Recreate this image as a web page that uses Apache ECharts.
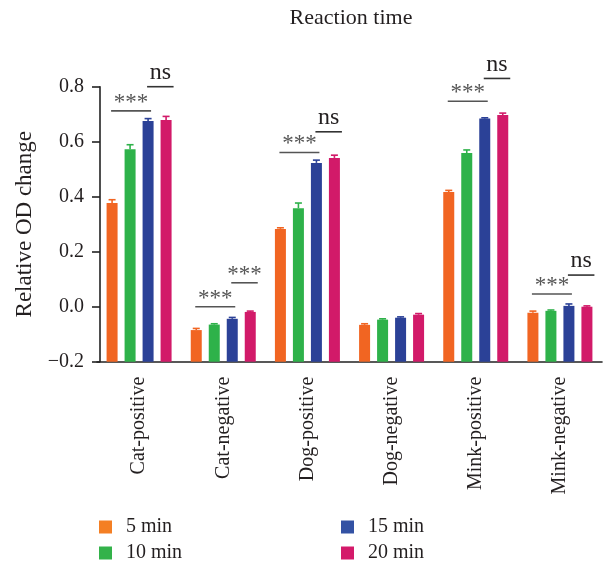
<!DOCTYPE html>
<html>
<head>
<meta charset="utf-8">
<script src="https://cdn.jsdelivr.net/npm/echarts@6/dist/echarts.min.js"></script>
<style>
html,body{margin:0;padding:0;background:#fff;}
#chart{width:603px;height:571px;}
</style>
</head>
<body>
<div id="chart"></div>
<script>
// ---------- data ----------
const categories = ['Cat-positive', 'Cat-negative', 'Dog-positive', 'Dog-negative', 'Mink-positive', 'Mink-negative'];
const seriesNames = ['5 min', '10 min', '15 min', '20 min'];
const values5  = [0.377, -0.085, 0.283, -0.066, 0.417, -0.022];
const values10 = [0.573, -0.065, 0.358, -0.047, 0.559, -0.015];
const values15 = [0.675, -0.044, 0.523, -0.040, 0.684,  0.003];
const values20 = [0.679, -0.019, 0.541, -0.029, 0.697,  0.000];
const errors5  = [0.012, 0.006, 0.004, 0.004, 0.006, 0.006];
const errors10 = [0.016, 0.003, 0.019, 0.003, 0.011, 0.003];
const errors15 = [0.009, 0.005, 0.010, 0.003, 0.003, 0.007];
const errors20 = [0.013, 0.003, 0.010, 0.004, 0.007, 0.003];
const yTicks = [-0.2, 0.0, 0.2, 0.4, 0.6, 0.8];
// significance brackets
const annCategories = ['Cat-positive', 'Cat-positive', 'Cat-negative', 'Cat-negative', 'Dog-positive', 'Dog-positive', 'Mink-positive', 'Mink-positive', 'Mink-negative', 'Mink-negative'];
const annFromSeries = [0, 2, 0, 2, 0, 2, 0, 2, 0, 2];
const annToSeries   = [2, 3, 2, 3, 2, 3, 2, 3, 2, 3];
const annLevels     = [0.712, 0.800, 0.000, 0.087, 0.561, 0.636, 0.747, 0.830, 0.046, 0.115];
const annTexts      = ['***', 'ns', '***', '***', '***', 'ns', '***', 'ns', '***', 'ns'];

// ---------- style ----------
const colors = ['#F16522', '#2EB24A', '#2B4197', '#D21A69'];
const legendColors = ['#F47F24', '#33B24A', '#3352A4', '#D41A6A'];
const FONT = "'Liberation Serif', 'DejaVu Serif', serif";
const TEXT = '#231f20';
const BAR_W = 11, BAR_GAP = 7;
const yMin = yTicks[0], yMax = yTicks[yTicks.length - 1], yStep = 0.2;

const allValues = [values5, values10, values15, values20];
const allErrors = [errors5, errors10, errors15, errors20];

const series = [];
allValues.forEach((vals, s) => {
  // invisible base from axis minimum so bars rise from the bottom of the axis
  series.push({
    type: 'bar', name: 'base' + s, stack: 'g' + s, stackStrategy: 'all',
    barWidth: BAR_W, barGap: (BAR_GAP / BAR_W * 100) + '%',
    itemStyle: { color: 'transparent' }, silent: true,
    data: vals.map(() => yMin)
  });
  series.push({
    type: 'bar', name: seriesNames[s], stack: 'g' + s, stackStrategy: 'all',
    barWidth: BAR_W, barGap: (BAR_GAP / BAR_W * 100) + '%',
    itemStyle: { color: colors[s] },
    data: vals.map(v => v - yMin)
  });
});

function seriesOffset(s) { return (s - 1.5) * (BAR_W + BAR_GAP); }

// error bars
allValues.forEach((vals, s) => {
  series.push({
    type: 'custom', name: 'err' + s, z: 5, silent: true,
    data: vals.map((v, i) => [i, v, allErrors[s][i]]),
    encode: { x: 0, y: 1 },
    renderItem: function (params, api) {
      const c0 = api.coord([api.value(0), api.value(1)]);
      const c1 = api.coord([api.value(0), api.value(1) + api.value(2)]);
      const x = c0[0] + seriesOffset(s);
      const st = { stroke: colors[s], lineWidth: 1.6 };
      return {
        type: 'group', children: [
          { type: 'line', shape: { x1: x, y1: c0[1], x2: x, y2: c1[1] }, style: st },
          { type: 'line', shape: { x1: x - 3.5, y1: c1[1], x2: x + 3.5, y2: c1[1] }, style: st }
        ]
      };
    }
  });
});

// significance annotations
series.push({
  type: 'custom', name: 'sig', z: 6, silent: true,
  data: annCategories.map((c, k) => [categories.indexOf(c), annLevels[k], annFromSeries[k], annToSeries[k]]),
  encode: { x: 0, y: 1 },
  renderItem: function (params, api) {
    const k = params.dataIndex;
    const c = api.coord([api.value(0), api.value(1)]);
    const from = api.value(2), to = api.value(3);
    const x1 = c[0] + seriesOffset(from) - 1;
    const x2 = to === seriesNames.length - 1 ? c[0] + seriesOffset(to) + BAR_W / 2 + 2 : c[0] + seriesOffset(to) + 3;
    const txt = annTexts[k];
    const isNs = txt === 'ns';
    return {
      type: 'group', children: [
        { type: 'line', shape: { x1: x1, y1: c[1], x2: x2, y2: c[1] }, style: { stroke: isNs ? '#333' : '#555', lineWidth: 1.6 } },
        { type: 'text', x: (x1 + x2) / 2, y: c[1] - (isNs ? 14 : 8),
          style: { text: txt, fill: isNs ? TEXT : '#555', font: (isNs ? '24px ' : '23px ') + FONT, align: 'center', verticalAlign: 'middle' } }
      ]
    };
  }
});

const legendText = { fontFamily: FONT, fontSize: 20, color: TEXT, lineHeight: 20, padding: [0, 0, 0, 9] };
const legendItems = seriesNames.map((n, i) => ({ name: n, itemStyle: { color: legendColors[i] } }));

const chart = echarts.init(document.getElementById('chart'), null, { renderer: 'canvas' });
chart.setOption({
  animation: false,
  color: colors,
  title: {
    text: 'Reaction time', left: 351, top: 7, textAlign: 'center', padding: 0,
    textStyle: { fontFamily: FONT, fontSize: 22, fontWeight: 'normal', color: TEXT }
  },
  legend: [
    { data: legendItems.slice(0, 2), orient: 'vertical', left: 99, top: 517, padding: 0, icon: 'rect',
      itemWidth: 13, itemHeight: 13, itemGap: 6, textStyle: legendText },
    { data: legendItems.slice(2, 4), orient: 'vertical', left: 341, top: 517, padding: 0, icon: 'rect',
      itemWidth: 13, itemHeight: 13, itemGap: 6, textStyle: legendText }
  ],
  grid: { left: 97, right: 1, top: 86.7, bottom: 209.3, containLabel: false },
  xAxis: {
    type: 'category', data: categories,
    axisLine: { onZero: false, lineStyle: { color: '#222', width: 1.6 } },
    axisTick: { alignWithLabel: true, length: 8, lineStyle: { color: '#222', width: 1.6 } },
    axisLabel: { rotate: 90, margin: 15, fontFamily: FONT, fontSize: 20, color: TEXT }
  },
  yAxis: {
    type: 'value', min: yMin, max: yMax, interval: yStep, offset: -3,
    name: 'Relative OD change', nameLocation: 'middle', nameGap: 60,
    nameTextStyle: { fontFamily: FONT, fontSize: 23, color: TEXT },
    axisLine: { show: true, lineStyle: { color: '#222', width: 1.6 } },
    axisTick: { show: true, length: 8, lineStyle: { color: '#222', width: 1.6 } },
    axisLabel: { margin: 16, fontFamily: FONT, fontSize: 20, color: TEXT,
      formatter: v => v.toFixed(1).replace('-', '\u2212') },
    splitLine: { show: false }
  },
  series: series
});
</script>
</body>
</html>
